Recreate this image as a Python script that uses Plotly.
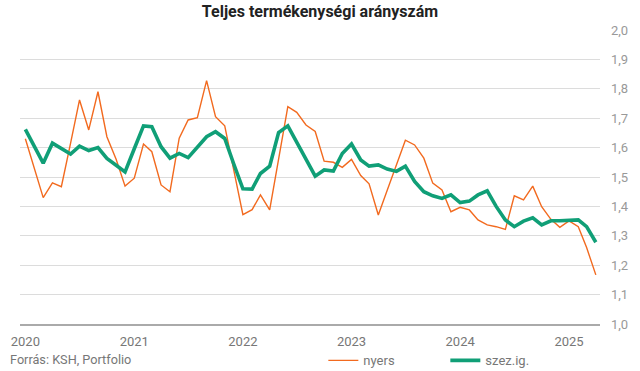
import plotly.graph_objects as go
import pandas as pd

dates = pd.date_range("2020-01-01", "2025-04-01", freq="MS")

nyers = [
    1.63, 1.53, 1.43, 1.48, 1.467, 1.615, 1.762, 1.66, 1.79, 1.637, 1.56, 1.469,
    1.496, 1.612, 1.586, 1.473, 1.45, 1.632, 1.694, 1.702, 1.828, 1.705, 1.674, 1.525,
    1.372, 1.389, 1.439, 1.388, 1.563, 1.739, 1.72, 1.677, 1.655, 1.554, 1.55, 1.533,
    1.56, 1.505, 1.477, 1.371, 1.455, 1.545, 1.625, 1.609, 1.564, 1.479, 1.456, 1.382,
    1.397, 1.388, 1.354, 1.337, 1.331, 1.322, 1.436, 1.422, 1.469, 1.399, 1.356, 1.329,
    1.351, 1.331, 1.26, 1.167,
]

szezig = [
    1.662, 1.605, 1.547, 1.615, 1.597, 1.578, 1.605, 1.59, 1.60, 1.563, 1.54, 1.517,
    1.596, 1.674, 1.671, 1.603, 1.564, 1.58, 1.566, 1.603, 1.637, 1.654, 1.631, 1.545,
    1.46, 1.459, 1.512, 1.537, 1.651, 1.674, 1.617, 1.56, 1.503, 1.524, 1.52, 1.58,
    1.612, 1.558, 1.537, 1.541, 1.527, 1.519, 1.537, 1.485, 1.45, 1.436, 1.427, 1.439,
    1.413, 1.418, 1.439, 1.453, 1.40, 1.354, 1.331, 1.35, 1.361, 1.337, 1.351, 1.351,
    1.352, 1.354, 1.331, 1.278,
]

year_ticks = ["2020-01-01", "2021-01-01", "2022-01-01", "2023-01-01", "2024-01-01", "2025-01-01"]
year_labels = ["2020", "2021", "2022", "2023", "2024", "2025"]
y_ticks = [1.0, 1.1, 1.2, 1.3, 1.4, 1.5, 1.6, 1.7, 1.8, 1.9, 2.0]

fig = go.Figure()
fig.add_trace(go.Scatter(
    x=dates, y=nyers, mode="lines", name="nyers",
    line=dict(color="#f26a1f", width=1.4),
))
fig.add_trace(go.Scatter(
    x=dates, y=szezig, mode="lines", name="szez.ig.",
    line=dict(color="#109f77", width=3.6),
))

fig.update_layout(
    width=640, height=371,
    margin=dict(l=20, r=40, t=30, b=47, autoexpand=False),
    paper_bgcolor="white", plot_bgcolor="white",
    separators=", ",
    font=dict(family="Roboto, sans-serif", size=13, color="#777"),
    title=dict(
        text="<b>Teljes termékenységi arányszám</b>",
        x=0.5, xanchor="center", xref="container",
        y=0.968, yanchor="middle", yref="container",
        font=dict(size=16, color="#222"),
    ),
    showlegend=True,
    legend=dict(
        orientation="h", x=0.523, xanchor="left", y=-0.124, yanchor="middle",
        font=dict(size=13, color="#777"), entrywidth=77, itemwidth=30,
        bgcolor="rgba(0,0,0,0)",
    ),
    xaxis=dict(
        type="date",
        range=["2019-12-14", "2025-04-15"],
        tickvals=year_ticks, ticktext=year_labels,
        showgrid=False, showline=True, linecolor="#aaa", linewidth=1.5,
        ticks="", tickfont=dict(size=13, color="#777"), ticklabelstandoff=5,
        zeroline=False, fixedrange=True, automargin=False,
    ),
    yaxis=dict(
        side="right", range=[1.0, 2.0], tickvals=y_ticks,
        tickformat=".1f", showgrid=True, gridcolor="#dcdcdc", gridwidth=1,
        zeroline=False, ticks="", showline=False, ticklabelstandoff=10,
        tickfont=dict(size=13, color="#999"), fixedrange=True, automargin=False,
    ),
    annotations=[dict(
        text="Forrás: KSH, Portfolio", xref="paper", yref="paper",
        x=-0.021, xanchor="left", y=-0.12, yanchor="middle",
        showarrow=False, font=dict(size=12.7, color="#777"),
    )],
)

fig.write_html(
    "out.html",
    config={"displayModeBar": False},
    post_script="document.body.style.margin='0';document.body.style.overflow='hidden';",
)
